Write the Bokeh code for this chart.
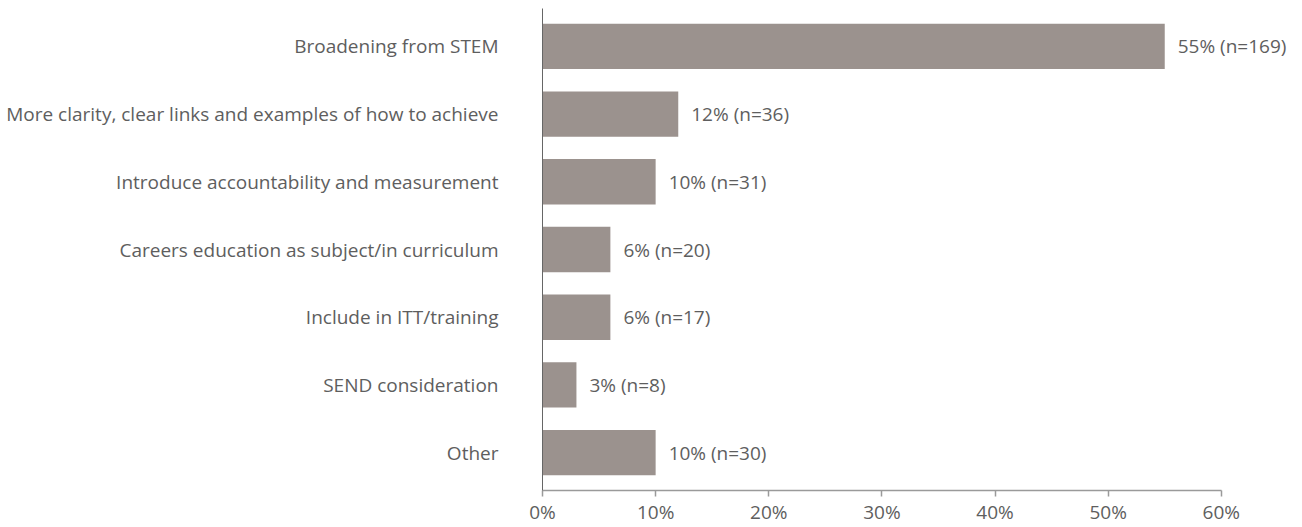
from bokeh.plotting import figure
from bokeh.models import ColumnDataSource, NumeralTickFormatter, FixedTicker, Range1d, FactorRange
from bokeh.embed import file_html
from bokeh.resources import INLINE
from bokeh.core.properties import value

categories = ["Broadening from STEM",
              "More clarity, clear links and examples of how to achieve",
              "Introduce accountability and measurement",
              "Careers education as subject/in curriculum",
              "Include in ITT/training",
              "SEND consideration",
              "Other"]
shares = [0.55, 0.12, 0.10, 0.06, 0.06, 0.03, 0.10]
labels = ["55% (n=169)", "12% (n=36)", "10% (n=31)", "6% (n=20)",
          "6% (n=17)", "3% (n=8)", "10% (n=30)"]
x_ticks = [0, 0.1, 0.2, 0.3, 0.4, 0.5, 0.6]

FONT = "Open Sans"
TXT = "#5e5e5e"
BAR = "#9b928e"

src = ColumnDataSource(dict(cat=categories, v=shares, lab=labels))

p = figure(width=1302, height=527, output_backend="svg", toolbar_location=None,
           y_range=FactorRange(*reversed(categories), range_padding=0.017),
           x_range=Range1d(0, 0.67),
           min_border_left=542, min_border_right=2, min_border_top=8, min_border_bottom=34)
p.outline_line_color = None
p.xgrid.grid_line_color = None
p.ygrid.grid_line_color = None

p.hbar(y="cat", right="v", left=0, height=0.67, source=src, color=BAR, line_color=None)
p.text(x="v", y="cat", text="lab", source=src, x_offset=13, text_baseline="middle",
       text_align="left", text_font=value(FONT), text_font_size="19px", text_color=TXT)

p.xaxis.ticker = FixedTicker(ticks=x_ticks)
p.xaxis.bounds = (0, 0.6)
p.xaxis.formatter = NumeralTickFormatter(format="0%")
p.xaxis.axis_line_color = "#9a9a9a"
p.xaxis.axis_line_width = 1.5
p.xaxis.major_tick_line_color = "#9a9a9a"
p.xaxis.major_tick_line_width = 1.5
p.xaxis.major_tick_out = 6
p.xaxis.major_tick_in = 0
p.xaxis.minor_tick_line_color = None
p.xaxis.major_label_text_font = FONT
p.xaxis.major_label_text_font_size = "19px"
p.xaxis.major_label_text_color = TXT
p.xaxis.major_label_standoff = 2

p.yaxis.axis_line_color = "#666666"
p.yaxis.major_tick_line_color = None
p.yaxis.major_tick_out = 0
p.yaxis.major_tick_in = 0
p.yaxis.minor_tick_line_color = None
p.yaxis.major_label_text_font = FONT
p.yaxis.major_label_text_font_size = "19px"
p.yaxis.major_label_text_color = TXT
p.yaxis.major_label_standoff = 44

open("out.html", "w").write(file_html(p, INLINE))
